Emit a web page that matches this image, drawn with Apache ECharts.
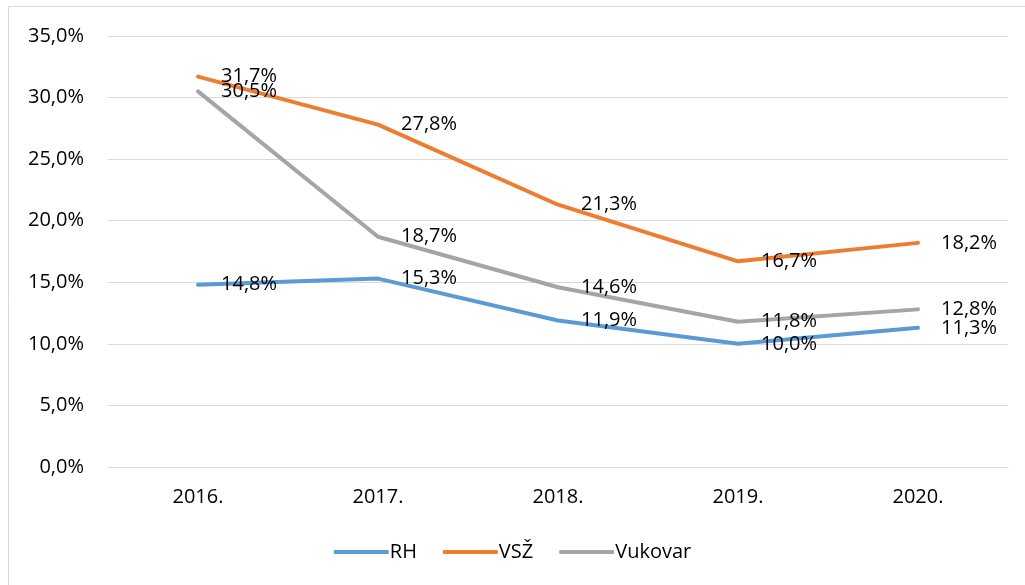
<!DOCTYPE html>
<html>
<head>
<meta charset="utf-8">
<script src="https://cdn.jsdelivr.net/npm/echarts@6/dist/echarts.min.js"></script>
<style>
  html, body { margin: 0; padding: 0; background: #fff; }
  #chart { width: 1025px; height: 585px; }
</style>
</head>
<body>
<div id="chart"></div>
<script>
// godine i udjeli (%)
var years = ['2016.', '2017.', '2018.', '2019.', '2020.'];
var rh = [14.8, 15.3, 11.9, 10.0, 11.3];
var vsz = [31.7, 27.8, 21.3, 16.7, 18.2];
var vukovar = [30.5, 18.7, 14.6, 11.8, 12.8];

var font = 'Open Sans';
var fsize = 20;

function pct(v) {
    return v.toFixed(1).replace('.', ',') + '%';
}

function makeSeries(name, data, color) {
    return {
        name: name,
        type: 'line',
        data: data,
        symbol: 'circle',
        symbolSize: 0.1,
        showSymbol: true,
        lineStyle: { width: 4, color: color, cap: 'round', join: 'round' },
        itemStyle: { color: color },
        label: {
            show: true,
            position: 'right',
            distance: 23,
            offset: [0, 1],
            color: '#000',
            fontFamily: font,
            fontSize: fsize,
            formatter: function (p) { return pct(p.value); }
        },
        labelLayout: { hideOverlap: false },
        z: 3
    };
}

var myChart = echarts.init(document.getElementById('chart'));

var option = {
    backgroundColor: '#fff',
    animation: false,
    graphic: [{
        type: 'rect',
        shape: { x: 8.5, y: 6.5, width: 1030, height: 600 },
        style: { fill: 'none', stroke: '#d9d9d9', lineWidth: 1 },
        silent: true
    }],
    grid: { left: 108, right: 17, top: 36, bottom: 118 },
    legend: {
        bottom: 18,
        left: 'center',
        itemWidth: 55,
        itemHeight: 4,
        itemGap: 26,
        icon: 'roundRect',
        textStyle: { fontFamily: font, fontSize: fsize, color: '#000', padding: [0, 0, 0, -4] },
        data: ['RH', 'VSŽ', 'Vukovar']
    },
    xAxis: {
        type: 'category',
        data: years,
        boundaryGap: true,
        axisLine: { show: true, lineStyle: { color: '#d9d9d9', width: 1 } },
        axisTick: { show: false },
        axisLabel: { color: '#000', fontFamily: font, fontSize: fsize, margin: 20 }
    },
    yAxis: {
        type: 'value',
        min: 0,
        max: 35,
        interval: 5,
        axisLine: { show: false },
        axisTick: { show: false },
        splitLine: { lineStyle: { color: '#d9d9d9', width: 1 } },
        axisLabel: {
            color: '#000', fontFamily: font, fontSize: fsize, margin: 24,
            formatter: function (v) { return pct(v); }
        }
    },
    series: [
        makeSeries('RH', rh, '#5b9bd5'),
        makeSeries('VSŽ', vsz, '#ed7d31'),
        makeSeries('Vukovar', vukovar, '#a5a5a5')
    ]
};

myChart.setOption(option);
</script>
</body>
</html>
